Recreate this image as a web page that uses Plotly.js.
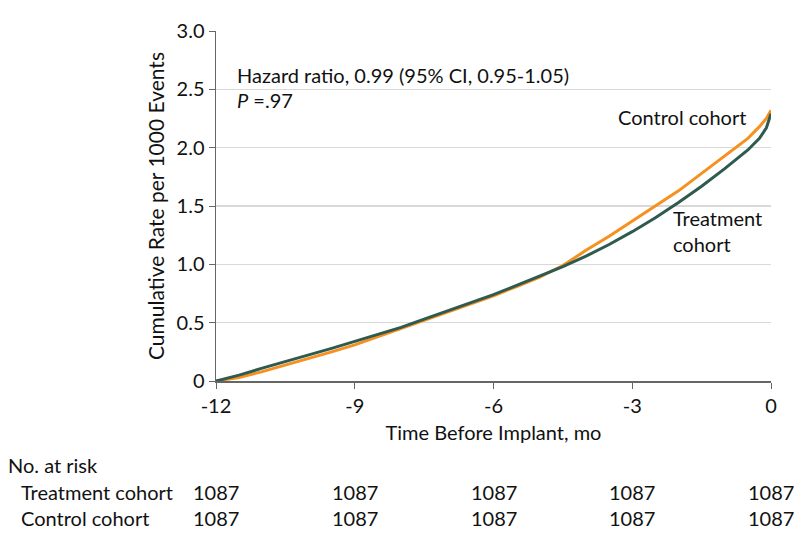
<!DOCTYPE html>
<html>
<head>
<meta charset="utf-8">
<script src="https://cdn.plot.ly/plotly-3.0.1.min.js"></script>
<style>html,body{margin:0;padding:0;background:#fff;}#chart{width:798px;height:546px;}</style>
</head>
<body>
<div id="chart"></div>
<script>
const months = [-12,-11.5,-11,-10.5,-10,-9.5,-9,-8.5,-8,-7.5,-7,-6.5,-6,-5.5,-5,-4.5,-4,-3.5,-3,-2.5,-2,-1.5,-1,-0.5,-0.25,-0.1,0];
const treatmentRate = [0,0.05,0.11,0.165,0.22,0.28,0.34,0.40,0.46,0.53,0.60,0.67,0.74,0.82,0.90,0.98,1.07,1.17,1.28,1.40,1.53,1.67,1.82,1.98,2.08,2.17,2.29];
const controlRate = [0,0.03,0.08,0.135,0.19,0.25,0.31,0.38,0.45,0.52,0.59,0.66,0.73,0.81,0.89,0.99,1.12,1.24,1.37,1.50,1.63,1.78,1.93,2.08,2.18,2.25,2.32];
const riskTimes = [-12,-9,-6,-3,0];
const treatmentAtRisk = [1087,1087,1087,1087,1087];
const controlAtRisk = [1087,1087,1087,1087,1087];
const yTickVals = [0,0.5,1.0,1.5,2.0,2.5,3.0];
const yTickText = ['0','0.5','1.0','1.5','2.0','2.5','3.0'];

const FONT = 'Lato, "Open Sans", sans-serif';
const FS = 20;
const GREEN = '#2f5a50';
const ORANGE = '#f6901e';
const TXT = '#111';

const traces = [
  {x: months, y: controlRate, type: 'scatter', mode: 'lines', name: 'Control cohort',
   line: {color: ORANGE, width: 3}},
  {x: months, y: treatmentRate, type: 'scatter', mode: 'lines', name: 'Treatment cohort',
   line: {color: GREEN, width: 3}}
];

const annotations = [
  {xref:'paper', yref:'paper', x:0.034, y:0.875, xanchor:'left', yanchor:'middle', showarrow:false,
   text:'Hazard ratio, 0.99 (95% CI, 0.95-1.05)', font:{size:FS, color:TXT}},
  {xref:'paper', yref:'paper', x:0.034, y:0.803, xanchor:'left', yanchor:'middle', showarrow:false,
   text:'<i>P</i> =.97', font:{size:FS, color:TXT}},
  {xref:'paper', yref:'paper', x:0.72, y:0.754, xanchor:'left', yanchor:'middle', showarrow:false,
   text:'Control cohort', font:{size:FS, color:TXT}},
  {xref:'paper', yref:'paper', x:0.82, y:0.43, xanchor:'left', yanchor:'middle', showarrow:false, align:'left',
   text:'Treatment<br>cohort', font:{size:FS, color:TXT}},
  {xref:'paper', yref:'paper', x:-0.379, y:-0.24, xanchor:'left', yanchor:'middle', showarrow:false,
   text:'No. at risk', font:{size:FS, color:TXT}},
  {xref:'paper', yref:'paper', x:-0.355, y:-0.317, xanchor:'left', yanchor:'middle', showarrow:false,
   text:'Treatment cohort', font:{size:FS, color:TXT}},
  {xref:'paper', yref:'paper', x:-0.355, y:-0.391, xanchor:'left', yanchor:'middle', showarrow:false,
   text:'Control cohort', font:{size:FS, color:TXT}}
];
riskTimes.forEach((t, i) => {
  annotations.push({xref:'x', yref:'paper', x:t, y:-0.317, xanchor:'center', yanchor:'middle', showarrow:false,
    text:String(treatmentAtRisk[i]), font:{size:FS, color:TXT}});
  annotations.push({xref:'x', yref:'paper', x:t, y:-0.391, xanchor:'center', yanchor:'middle', showarrow:false,
    text:String(controlAtRisk[i]), font:{size:FS, color:TXT}});
});

const layout = {
  width: 798, height: 546,
  margin: {l:216, r:27, t:31, b:165},
  paper_bgcolor:'#fff', plot_bgcolor:'#fff',
  showlegend:false,
  font:{family: FONT, size:FS, color:TXT},
  xaxis:{range:[-12,0], tickvals: riskTimes, ticktext: riskTimes.map(String),
    showgrid:false, zeroline:false, showline:true, linecolor:'#666', linewidth:1.5,
    ticks:'outside', ticklen:6, tickcolor:'#666', tickfont:{size:FS, color:TXT},
    title:{text:'Time Before Implant, mo', font:{size:FS, color:TXT}, standoff:10}},
  yaxis:{range:[0,3.0], tickvals: yTickVals, ticktext: yTickText,
    showgrid:true, gridcolor:'#d9d9d9', gridwidth:1.5, zeroline:false, showline:true, linecolor:'#666', linewidth:1.5,
    ticks:'outside', ticklen:6, tickcolor:'#666', tickfont:{size:FS, color:TXT},
    title:{text:'Cumulative Rate per 1000 Events', font:{size:21, color:TXT}, standoff:6}},
  annotations: annotations
};

Plotly.newPlot('chart', traces, layout, {displayModeBar:false, staticPlot:true});
</script>
</body>
</html>
